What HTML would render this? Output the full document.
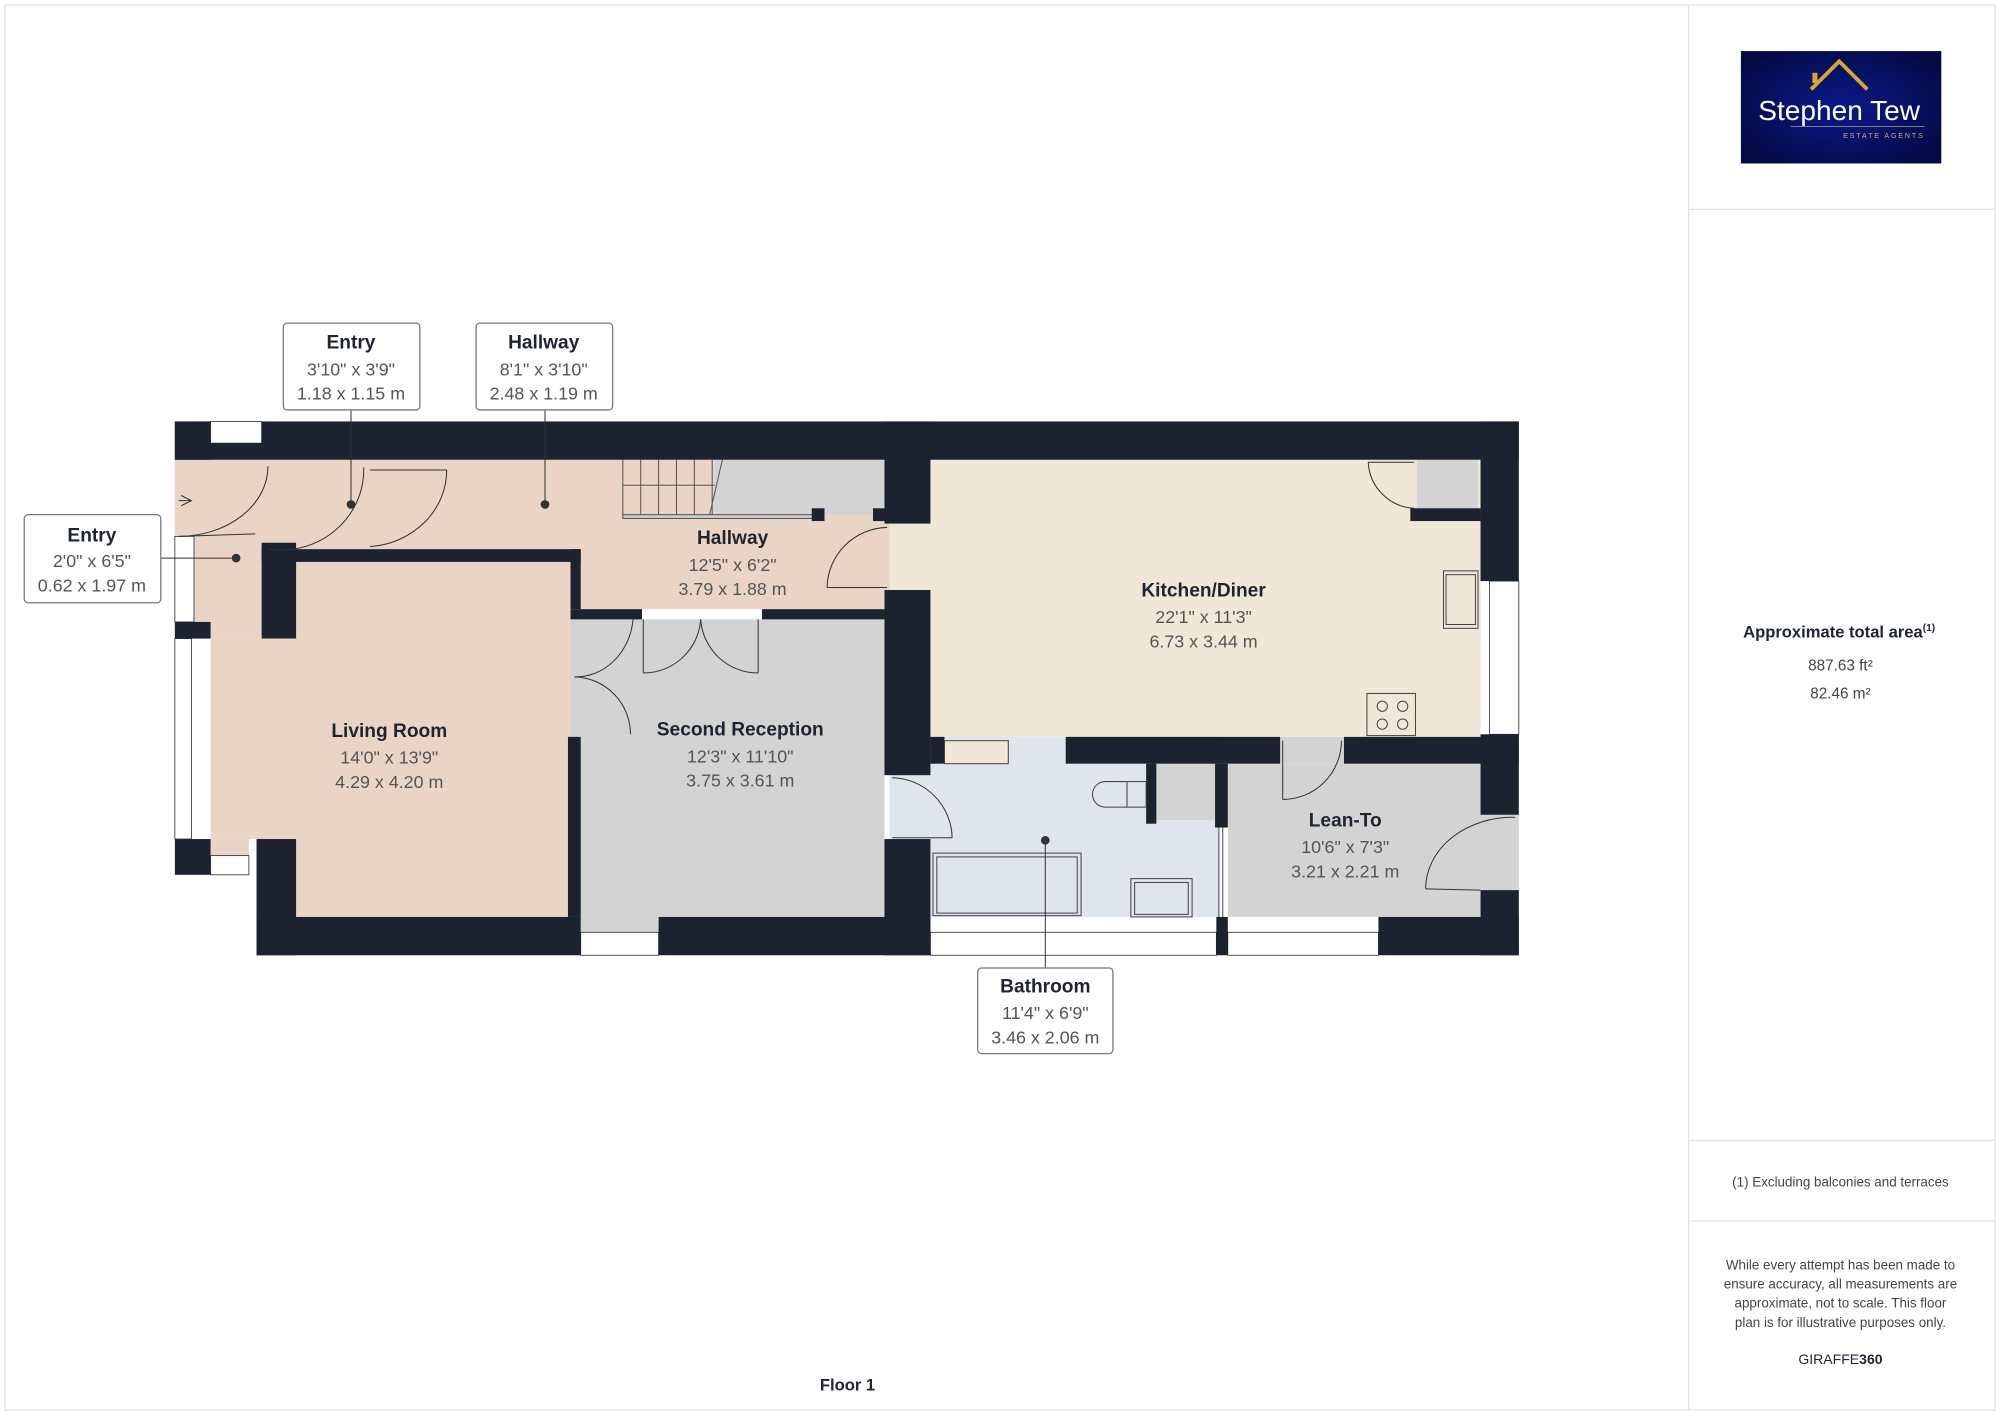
<!DOCTYPE html>
<html><head><meta charset="utf-8"><style>
html,body{margin:0;padding:0;background:#fff;width:2000px;height:1415px;overflow:hidden}
svg{display:block}
text{font-family:"Liberation Sans","DejaVu Sans",sans-serif}
</style></head><body>
<svg width="2000" height="1415" viewBox="0 0 1567 1108" preserveAspectRatio="none" xmlns="http://www.w3.org/2000/svg">
<rect x="4" y="4" width="1559" height="1100" fill="#fff" stroke="#e2e2e2"/>
<line x1="1323" y1="4" x2="1323" y2="1104" stroke="#e2e2e2"/>
<line x1="1323" y1="164" x2="1563" y2="164" stroke="#e2e2e2"/>
<line x1="1323" y1="893" x2="1563" y2="893" stroke="#e2e2e2"/>
<line x1="1323" y1="956" x2="1563" y2="956" stroke="#e2e2e2"/>
<defs><radialGradient id="g" cx="50%" cy="50%" r="60%"><stop offset="0" stop-color="#0a1a8a"/><stop offset="1" stop-color="#050a45"/></radialGradient></defs>
<rect x="1364" y="40" width="157" height="88" fill="url(#g)"/>
<polyline points="1419,70 1441,48 1463,70" fill="none" stroke="#d4a833" stroke-width="3"/>
<rect x="1420" y="57" width="4" height="8" fill="#d4a833"/>
<text x="1441" y="94" fill="#fff" font-size="22" text-anchor="middle">Stephen Tew</text>
<line x1="1403" y1="99" x2="1508" y2="99" stroke="#8a8a9a" stroke-width="0.6"/>
<text x="1508" y="108" fill="#c9b070" font-size="5.5" text-anchor="end" letter-spacing="1.5">ESTATE AGENTS</text>
<text x="1441" y="499" font-size="13" font-weight="bold" fill="#1e2430" text-anchor="middle">Approximate total area<tspan font-size="8" dy="-5">(1)</tspan></text>
<text x="1442" y="525" font-size="12" fill="#444" text-anchor="middle">887.63 ft²</text>
<text x="1442" y="547" font-size="12" fill="#444" text-anchor="middle">82.46 m²</text>
<text x="1442" y="929" font-size="10.5" fill="#444" text-anchor="middle">(1) Excluding balconies and terraces</text>
<g font-size="10.5" fill="#444" text-anchor="middle">
<text x="1442" y="994">While every attempt has been made to</text>
<text x="1442" y="1009">ensure accuracy, all measurements are</text>
<text x="1442" y="1024">approximate, not to scale. This floor</text>
<text x="1442" y="1039">plan is for illustrative purposes only.</text>
</g>
<text x="1442" y="1068" font-size="11" fill="#1e2430" text-anchor="middle">GIRAFFE<tspan font-weight="bold">360</tspan></text>
<text x="664" y="1089" font-size="13" font-weight="bold" fill="#1e2430" text-anchor="middle">Floor 1</text>

<g>
<rect x="137" y="360" width="560" height="70" fill="#ead4c6"/>
<rect x="137" y="360" width="68" height="140" fill="#ead4c6"/>
<rect x="455" y="403" width="242" height="74" fill="#ead4c6"/>
<rect x="560" y="360" width="133" height="43" fill="#d3d3d3"/>
<rect x="232" y="440" width="215" height="278" fill="#ead4c6"/>
<rect x="165" y="500" width="70" height="157" fill="#ead4c6"/>
<rect x="165" y="657" width="30" height="13" fill="#ead4c6"/>
<rect x="447" y="485" width="246" height="233" fill="#d3d3d3"/>
<rect x="697" y="360" width="463" height="217" fill="#f0e7d7"/>
<rect x="729" y="577" width="226" height="141" fill="#dfe4ef"/>
<rect x="697" y="607" width="32" height="50" fill="#dfe4ef"/>
<rect x="962" y="598" width="198" height="120" fill="#d3d3d3"/>
<rect x="1003" y="577" width="50" height="21" fill="#d3d3d3"/>
<rect x="1110" y="360" width="48" height="38" fill="#d3d3d3"/>
<rect x="906" y="598" width="46" height="44" fill="#d3d3d3"/>
<rect x="1160" y="638" width="30" height="59" fill="#d3d3d3"/>
<rect x="455" y="718" width="61" height="12" fill="#d3d3d3"/>
</g>
<g stroke="#555" stroke-width="0.8" fill="none">
<line x1="488" y1="360" x2="488" y2="403"/><line x1="502" y1="360" x2="502" y2="403"/><line x1="516" y1="360" x2="516" y2="403"/><line x1="530" y1="360" x2="530" y2="403"/><line x1="544" y1="360" x2="544" y2="403"/><line x1="558" y1="360" x2="558" y2="403"/>
<line x1="488" y1="380" x2="560" y2="380"/>
<line x1="566" y1="360" x2="556" y2="403"/>
<rect x="488" y="403" width="150" height="3" fill="#ccc"/>
</g>
<g fill="#1c2230">
<rect x="137" y="330" width="1053" height="30"/>
<rect x="1160" y="330" width="30" height="125"/>
<rect x="1160" y="575" width="30" height="63"/>
<rect x="1160" y="697" width="30" height="51"/>
<rect x="201" y="718" width="254" height="30"/>
<rect x="516" y="718" width="213" height="30"/>
<rect x="953" y="718" width="9" height="30"/>
<rect x="1080" y="718" width="110" height="30"/>
<rect x="137" y="330" width="28" height="30"/>
<rect x="137" y="487" width="28" height="13"/>
<rect x="137" y="657" width="28" height="28"/>
<rect x="201" y="657" width="31" height="91"/>
<rect x="205" y="425" width="27" height="75"/>
<rect x="205" y="430" width="250" height="10"/>
<rect x="447" y="430" width="8" height="47"/>
<rect x="447" y="477" width="56" height="8"/>
<rect x="597" y="477" width="100" height="8"/>
<rect x="445" y="577" width="10" height="141"/>
<rect x="693" y="330" width="36" height="80"/>
<rect x="693" y="462" width="36" height="145"/>
<rect x="693" y="657" width="36" height="91"/>
<rect x="729" y="577" width="11" height="21"/>
<rect x="835" y="577" width="168" height="21"/>
<rect x="1053" y="577" width="137" height="21"/>
<rect x="898" y="598" width="8" height="47"/>
<rect x="952" y="598" width="10" height="50"/>
<rect x="1105" y="398" width="55" height="10"/>
<rect x="636" y="398" width="10" height="10"/>
<rect x="684" y="398" width="9" height="10"/>
</g>
<g fill="#fff" stroke="#1c2230" stroke-width="0.6">
<rect x="165" y="330" width="40" height="17"/>
<rect x="137" y="420" width="15" height="67"/>
<rect x="137" y="500" width="13" height="157"/>
<rect x="165" y="670" width="30" height="15"/>
<rect x="1167" y="455" width="23" height="120"/>
<rect x="455" y="730" width="61" height="18"/>
<rect x="729" y="730" width="224" height="18"/>
<rect x="962" y="730" width="118" height="18"/>
</g>
<g fill="none" stroke="#333" stroke-width="0.8">
<path d="M210 365 A 70 55 0 0 1 140 420"/>
<line x1="140" y1="420" x2="200" y2="418"/>
<path d="M285 366 A 65 63 0 0 1 210 430"/>
<path d="M350 368 A 65 60 0 0 1 290 428"/>
<line x1="290" y1="368" x2="350" y2="368"/>
<path d="M695 413 A 48 48 0 0 0 648 460"/><line x1="648" y1="460" x2="695" y2="460"/>
<path d="M496 485 A 45 50 0 0 1 450 530"/><path d="M450 530 A 45 45 0 0 1 494 575"/>
<path d="M504 527 A 45 45 0 0 0 549 485"/><path d="M549 485 A 45 45 0 0 0 594 527"/>
<line x1="504" y1="485" x2="504" y2="527"/><line x1="594" y1="485" x2="594" y2="527"/>
<path d="M1072 362 A 38 38 0 0 0 1108 398"/><line x1="1072" y1="362" x2="1108" y2="362"/>
<path d="M699 609 A 48 48 0 0 1 746 656"/><line x1="699" y1="656" x2="746" y2="656"/>
<path d="M1051 580 A 46 46 0 0 1 1005 626"/><line x1="1005" y1="580" x2="1005" y2="626"/>
<path d="M1187 640 A 68 56 0 0 0 1117 696"/><line x1="1117" y1="696" x2="1160" y2="697"/>
<path d="M142 388 L150 392 L142 396 M140 392 L150 392"/>
</g>
<g fill="none" stroke="#444" stroke-width="0.8">
<rect x="1131" y="447" width="27" height="45"/><rect x="1133" y="450" width="23" height="39"/>
<rect x="1071" y="543" width="38" height="33"/>
<circle cx="1083" cy="553" r="4"/><circle cx="1099" cy="553" r="4"/><circle cx="1083" cy="567" r="4"/><circle cx="1099" cy="567" r="4"/>
<rect x="740" y="580" width="50" height="18" fill="#f0e7d7"/>
<path d="M883 612 L866 612 A 10 10 0 0 0 866 632 L883 632 Z"/><rect x="883" y="612" width="15" height="20"/>
<rect x="731" y="668" width="116" height="49"/><rect x="734" y="671" width="110" height="44"/>
<rect x="886" y="688" width="48" height="30"/><rect x="889" y="691" width="42" height="25"/>
<line x1="955" y1="648" x2="955" y2="718"/><line x1="958" y1="648" x2="958" y2="718"/>
</g>
<g fill="#1e2430" text-anchor="middle">
<text x="574" y="426" font-size="15" font-weight="bold">Hallway</text>
<text x="574" y="447" font-size="14" fill="#555">12'5" x 6'2"</text>
<text x="574" y="466" font-size="14" fill="#555">3.79 x 1.88 m</text>
<text x="305" y="577" font-size="15" font-weight="bold">Living Room</text>
<text x="305" y="598" font-size="14" fill="#555">14'0" x 13'9"</text>
<text x="305" y="617" font-size="14" fill="#555">4.29 x 4.20 m</text>
<text x="580" y="576" font-size="15" font-weight="bold">Second Reception</text>
<text x="580" y="597" font-size="14" fill="#555">12'3" x 11'10"</text>
<text x="580" y="616" font-size="14" fill="#555">3.75 x 3.61 m</text>
<text x="943" y="467" font-size="15" font-weight="bold">Kitchen/Diner</text>
<text x="943" y="488" font-size="14" fill="#555">22'1" x 11'3"</text>
<text x="943" y="507" font-size="14" fill="#555">6.73 x 3.44 m</text>
<text x="1054" y="647" font-size="15" font-weight="bold">Lean-To</text>
<text x="1054" y="668" font-size="14" fill="#555">10'6" x 7'3"</text>
<text x="1054" y="687" font-size="14" fill="#555">3.21 x 2.21 m</text>
</g>
<g stroke="#333" stroke-width="0.8" fill="#333">
<line x1="275" y1="321" x2="275" y2="395"/><circle cx="275" cy="395" r="3"/>
<line x1="427" y1="321" x2="427" y2="395"/><circle cx="427" cy="395" r="3"/>
<line x1="126" y1="437" x2="185" y2="437"/><circle cx="185" cy="437" r="3"/>
<line x1="819" y1="758" x2="819" y2="658"/><circle cx="819" cy="658" r="3"/>
</g>
<g fill="#fff" stroke="#777" stroke-width="1">
<rect x="222" y="253" width="107" height="68" rx="3"/>
<rect x="373" y="253" width="107" height="68" rx="3"/>
<rect x="19" y="403" width="107" height="69" rx="3"/>
<rect x="766" y="758" width="106" height="67" rx="3"/>
</g>
<g fill="#1e2430" text-anchor="middle">
<text x="275" y="273" font-size="15" font-weight="bold">Entry</text>
<text x="275" y="294" font-size="14" fill="#555">3'10" x 3'9"</text>
<text x="275" y="313" font-size="14" fill="#555">1.18 x 1.15 m</text>
<text x="426" y="273" font-size="15" font-weight="bold">Hallway</text>
<text x="426" y="294" font-size="14" fill="#555">8'1" x 3'10"</text>
<text x="426" y="313" font-size="14" fill="#555">2.48 x 1.19 m</text>
<text x="72" y="424" font-size="15" font-weight="bold">Entry</text>
<text x="72" y="444" font-size="14" fill="#555">2'0" x 6'5"</text>
<text x="72" y="463" font-size="14" fill="#555">0.62 x 1.97 m</text>
<text x="819" y="777" font-size="15" font-weight="bold">Bathroom</text>
<text x="819" y="798" font-size="14" fill="#555">11'4" x 6'9"</text>
<text x="819" y="817" font-size="14" fill="#555">3.46 x 2.06 m</text>
</g>
</svg>
</body></html>
